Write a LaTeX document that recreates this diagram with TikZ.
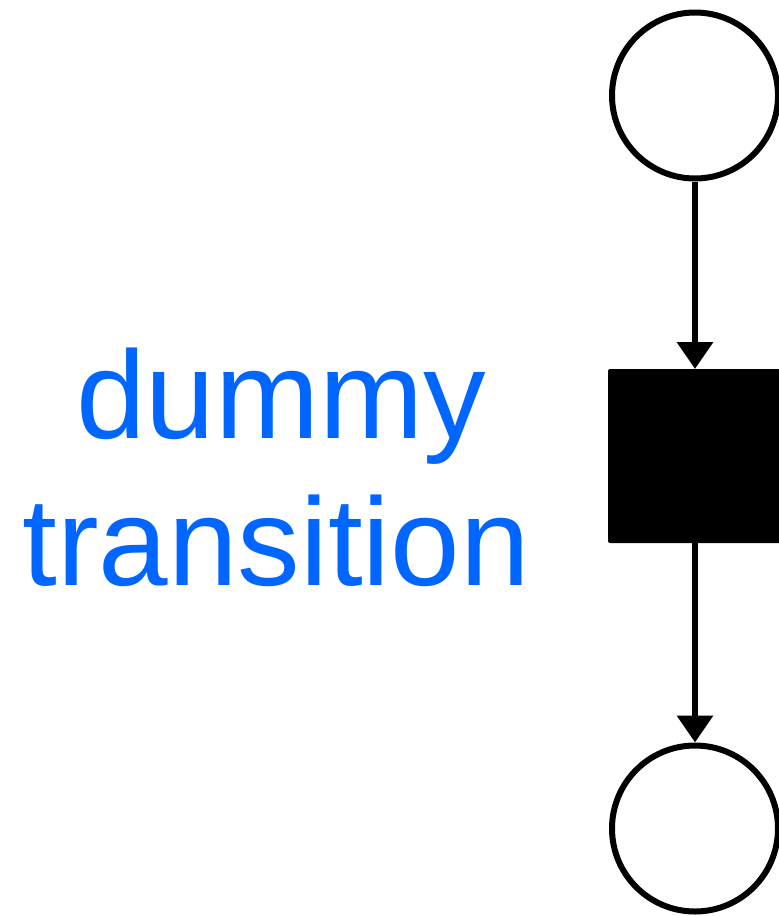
\documentclass[tikz,border=0pt]{standalone}
\usepackage{fontspec}
\setmainfont{Liberation Sans}
\usetikzlibrary{arrows.meta}
\definecolor{labelblue}{HTML}{0066FF}
\tikzset{
  place/.style={circle, draw=black, line width=6pt, fill=white, minimum size=166pt, inner sep=0pt},
  trans/.style={rectangle, fill=black, minimum width=174pt, minimum height=174pt, inner sep=0pt, outer sep=0pt, rounded corners=2pt},
  arc/.style={line width=6.5pt, -{Triangle[length=27pt,width=35pt]}},
  lbl/.style={text=labelblue, font=\fontsize{125}{147}\selectfont, inner sep=0pt, anchor=base}
}
\begin{document}
\begin{tikzpicture}[x=1pt,y=-1pt]
\useasboundingbox (0,0) rectangle (779,916);
\node[place] (p1) at (695,95.5) {};
\node[trans] (t1) at (695,456) {};
\node[place] (p2) at (695,828.5) {};
\draw[arc] (p1) -- (t1);
\draw[arc] (t1) -- (p2);
\node[lbl] (l1) at (281,438) {dummy};
\node[lbl] (l2) at (276,585) {transition};
\end{tikzpicture}
\end{document}
